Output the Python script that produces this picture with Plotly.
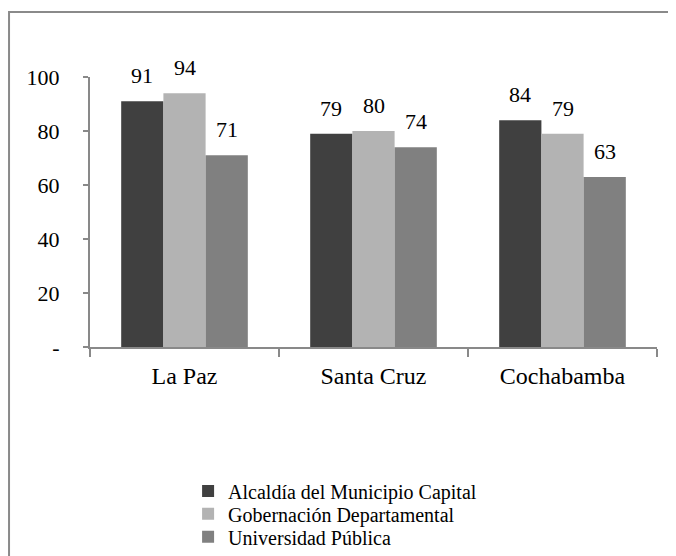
import plotly.graph_objects as go

categories = ["La Paz", "Santa Cruz", "Cochabamba"]
series_names = ["Alcaldía del Municipio Capital", "Gobernación Departamental", "Universidad Pública"]
alcaldia = [91, 79, 84]
gobernacion = [94, 80, 79]
universidad = [71, 74, 63]
y_tickvals = [0, 20, 40, 60, 80, 100]
y_ticktext = ["-", "20", "40", "60", "80", "100"]

colors = ["#404040", "#b3b3b3", "#808080"]
series_values = [alcaldia, gobernacion, universidad]
legend_ids = ["legend", "legend2", "legend3"]
legend_y = [-0.533, -0.618, -0.703]

SERIF = "Liberation Serif"

fig = go.Figure()
for name, vals, col, lid in zip(series_names, series_values, colors, legend_ids):
    fig.add_trace(go.Bar(x=categories, y=vals, name=name, legend=lid,
                         marker=dict(color=col, line=dict(width=0))))

# data labels
bar_px = 42.5
shifts = [-bar_px, 0, bar_px]
for vals, xs in zip(series_values, shifts):
    for c, v in zip(categories, vals):
        fig.add_annotation(x=c, y=v, text=str(v), showarrow=False, xshift=xs, yshift=11,
                           yanchor="bottom", font=dict(family=SERIF, size=22, color="#000"))

# outer border
fig.add_shape(type="rect", xref="paper", yref="paper", x0=-0.1428, x1=1.3, y0=-0.9, y1=1.2407,
              line=dict(color="#8a8a8a", width=2), fillcolor="rgba(0,0,0,0)", layer="below")

legend_common = dict(x=0.173, xanchor="left", yanchor="middle", orientation="v",
                     font=dict(family=SERIF, size=20, color="#000"), bgcolor="rgba(0,0,0,0)")

fig.update_layout(
    width=668, height=548,
    margin=dict(l=82, r=19, t=69, b=209, autoexpand=False),
    paper_bgcolor="white", plot_bgcolor="white",
    barmode="group", bargap=0.33, bargroupgap=0,
    font=dict(family=SERIF, color="#000", size=18),
    showlegend=True,
    legend=dict(y=legend_y[0], **legend_common),
    legend2=dict(y=legend_y[1], **legend_common),
    legend3=dict(y=legend_y[2], **legend_common),
    xaxis=dict(showline=True, linecolor="#898989", linewidth=2, ticks="outside", tickson="boundaries",
               ticklen=8, tickcolor="#898989", tickwidth=2, showgrid=False, zeroline=False,
               ticklabelstandoff=6, automargin=False,
               tickfont=dict(family=SERIF, size=24, color="#000")),
    yaxis=dict(range=[0, 100], tickvals=y_tickvals, ticktext=y_ticktext, showline=True,
               linecolor="#898989", linewidth=2, ticks="outside", ticklen=5, tickcolor="#898989",
               tickwidth=2, showgrid=False, zeroline=False, ticklabelstandoff=19, automargin=False,
               tickfont=dict(family=SERIF, size=22, color="#000")),
)

fig.write_html("out.html")
